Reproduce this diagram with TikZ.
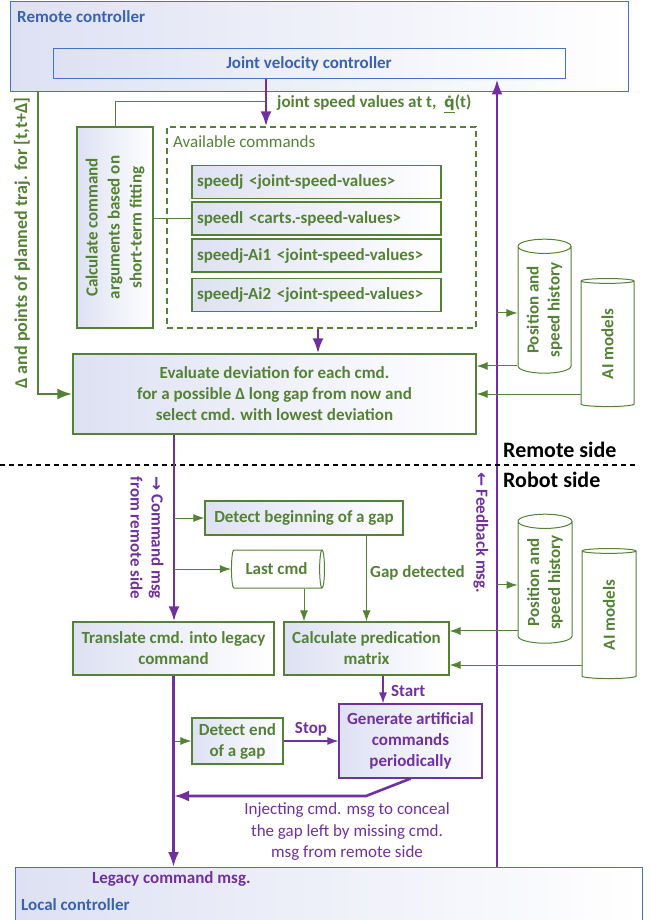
\documentclass[tikz,border=0pt]{standalone}
\usepackage{fontspec}
\setmainfont{Carlito}
\newfontfamily\arrowfont{DejaVu Sans}
\usetikzlibrary{arrows.meta,calc,positioning,shapes.geometric}
\tikzset{>={Latex[width=8pt,length=11pt]}}
\definecolor{ctrl_blue}{RGB}{68,114,196}
\definecolor{ctrl_text}{RGB}{58,98,178}
\definecolor{cmd_green}{RGB}{84,130,53}
\definecolor{msg_purple}{RGB}{112,48,160}
\definecolor{box_shade}{RGB}{222,225,243}

\begin{document}
\begin{tikzpicture}[
		x=1pt, y=-1pt,
		every node/.style={font=\fontsize{17}{21}\selectfont\bfseries, inner sep=0pt},
		shaded/.style={left color=box_shade, middle color=white, right color=white},
		ctrlbox/.style={draw=ctrl_blue, line width=1pt, shaded},
		gbox/.style={draw=cmd_green, line width=1.2pt, shaded, text=cmd_green, align=center},
		pbox/.style={draw=msg_purple, line width=1.2pt, shaded, text=msg_purple, align=center},
		store/.style={cylinder, draw=cmd_green, line width=1pt, fill=white, text=cmd_green, align=center, aspect=0.4},
		gline/.style={draw=cmd_green, line width=1pt},
		pthin/.style={draw=msg_purple, line width=1.2pt},
		pthick/.style={draw=msg_purple, line width=2.6pt, -{Latex[width=11pt,length=15pt]}},
	]
	\useasboundingbox (0,0) rectangle (649,920);

	% remote controller
	\node[ctrlbox, minimum width=618pt, minimum height=90pt] (remote) at (319,47) {};
	\node[anchor=west, text=ctrl_text] (remote-label) at (17,17) {Remote controller};
	\node[ctrlbox, minimum width=512pt, minimum height=30pt, text=ctrl_text] (joint-vel) at (309,64) {Joint velocity controller};

	% local controller
	\node[ctrlbox, minimum width=627pt, minimum height=80pt, anchor=north west] (local) at (15,867) {};
	\node[anchor=west, text=msg_purple] (legacy-label) at (92,879) {Legacy command msg.};
	\node[anchor=west, text=ctrl_text] (local-label) at (21,905) {Local controller};

	% command fitting
	\node[gbox, minimum width=76pt, minimum height=201pt] (fitting) at (115,227.5) {};
	\node[rotate=90, text=cmd_green, align=center, font=\fontsize{17}{22}\selectfont\bfseries] (fitting-text) at (fitting) {Calculate command\\arguments based on\\short-term fitting};

	\node[draw=cmd_green, line width=1.2pt, dash pattern=on 6pt off 4pt, minimum width=309pt, minimum height=201pt] (avail) at (321.5,227.5) {};
	\node[anchor=west, text=cmd_green, font=\fontsize{17}{21}\selectfont] (avail-label) at (173,142) {Available commands};

	\foreach \y/\n/\txt in {182/1/{speedj <joint-speed-values>}, 218.5/2/{speedl <carts.-speed-values>}, 255.5/3/{speedj-Ai1 <joint-speed-values>}, 295/4/{speedj-Ai2 <joint-speed-values>}}{
			\node[gbox, minimum height=33pt, text width=239pt, inner xsep=5pt, align=left] (cmd-\n) at (316.5,\y) {\txt};
		}

	\draw[gline] (cmd-2.west) -- (cmd-2.west -| fitting.east);

	\coordinate (speed-drop) at (266,102);
	\draw[gline] (fitting.north) |- (speed-drop);
	\draw[pthick] (joint-vel.south -| speed-drop) -- (avail.north -| speed-drop);
	\node[anchor=west, text=cmd_green] (speed-label) at (277,104) {joint speed values at t,\ \ \underline{{\arrowfont\bfseries\fontsize{15}{18}\selectfont \.{q}}}(t)};

	% evaluation
	\node[gbox, minimum width=403pt, minimum height=80pt] (evaluate) at (274.5,394) {Evaluate deviation for each cmd.\\for a possible Δ long gap from now and\\select cmd. with lowest deviation};

	\coordinate (cmd-drop) at (318,340);
	\draw[pthick] (avail.south -| cmd-drop) -- (evaluate.north -| cmd-drop);

	\coordinate (traj-top) at (38,92);
	\draw[draw=cmd_green, line width=2.6pt, -{Latex[width=11pt,length=15pt]}] (remote.south -| traj-top) |- (evaluate.west);
	\node[rotate=90, text=cmd_green, font=\fontsize{18}{21}\selectfont\bfseries] (traj-label) at (22,243) {Δ and points of planned traj. for [t,t+Δ]};

	\node[store, rotate=90, minimum height=134pt, minimum width=53pt] (history-remote) at (544.5,310) {Position and\\speed history};
	\node[store, rotate=90, minimum height=128pt, minimum width=53pt] (ai-remote) at (607.5,344) {AI models};

	% feedback
	\coordinate (feedback) at (497,600);
	\draw[pthick] (local.north -| feedback) -- (joint-vel.south -| feedback);
	\node[rotate=-90, text=msg_purple] (feedback-label) at (481,533) {{\arrowfont ←}\,Feedback msg.};

	\draw[gline, ->] (feedback |- history-remote.north) ++(0,3) coordinate (h0) -- (h0 -| history-remote.north);
	\draw[gline, ->] ($(history-remote.north)+(0,56)$) coordinate (h1) -- (h1 -| evaluate.east);
	\draw[gline, ->] (ai-remote.north |- evaluate.east) -- (evaluate.east);

	% sides
	\coordinate (side-left) at (0,465);
	\coordinate (side-right) at (637,465);
	\draw[line width=2.8pt, dash pattern=on 5pt off 4pt] (side-left) -- (side-right);
	\node[anchor=west, font=\fontsize{22}{26}\selectfont\bfseries] (remote-side) at (503,450) {Remote side};
	\node[anchor=west, font=\fontsize{22}{26}\selectfont\bfseries] (robot-side) at (503,480) {Robot side};

	% robot side
	\node[gbox, minimum width=201pt, minimum height=53pt] (translate) at (173.5,648.5) {Translate cmd. into legacy\\command};
	\coordinate (cmd-line) at (174,500);
	\draw[pthick] (evaluate.south -| cmd-line) -- (translate.north -| cmd-line);
	\node[rotate=-90, text=msg_purple, align=center] (cmd-msg) at (147,538) {{\arrowfont →}\,Command msg\\from remote side};

	\node[gbox, minimum width=198pt, minimum height=34pt] (gap-start) at (304,518) {Detect beginning of a gap};
	\draw[gline, ->] (cmd-line |- gap-start.west) -- (gap-start.west);

	\node[store, minimum height=93pt, minimum width=38pt] (last-cmd) at (276.5,569) {Last cmd};
	\draw[gline, ->] (cmd-line |- last-cmd.west) -- (last-cmd.west);

	\node[gbox, minimum width=165pt, minimum height=53pt] (predication) at (366.5,648.5) {Calculate predication\\matrix};
	\coordinate (last-drop) at (304,600);
	\draw[gline, ->] (last-cmd.south -| last-drop) -- (predication.north -| last-drop);
	\draw[gline, ->] (gap-start.south -| predication.north) -- (predication.north);
	\node[anchor=west, text=cmd_green] (gap-label) at (370,573) {Gap detected};

	\node[store, rotate=90, minimum height=129pt, minimum width=54pt] (history-robot) at (545,582.5) {Position and\\speed history};
	\node[store, rotate=90, minimum height=130pt, minimum width=54pt] (ai-robot) at (609,615) {AI models};

	\draw[gline, ->] (feedback |- history-robot.north) ++(0,2.5) coordinate (r0) -- (r0 -| history-robot.north);
	\draw[gline, ->] ($(history-robot.north)+(0,48.5)$) coordinate (r1) -- (r1 -| predication.east);
	\draw[gline, ->] ($(ai-robot.north)+(0,50)$) coordinate (r2) -- (r2 -| predication.east);

	% artificial commands
	\node[gbox, minimum width=91pt, minimum height=46pt] (gap-end) at (237.5,741) {Detect end\\of a gap};
	\node[pbox, minimum width=143pt, minimum height=74pt] (generate) at (410.5,741) {Generate artificial\\commands\\periodically};
	\draw[gline, ->] (cmd-line |- gap-end.west) -- (gap-end.west);
	\draw[pthin, ->] (gap-end.east) -- node[above=4pt, text=msg_purple] (stop-label) {Stop} (generate.west);

	\coordinate (start-drop) at (383,690);
	\draw[pthin, ->] (predication.south -| start-drop) -- (generate.north -| start-drop);
	\node[anchor=west, text=msg_purple] (start-label) at (391,691) {Start};

	\coordinate (inject-bend) at (366,796);
	\draw[pthick] (generate.south) -- (inject-bend) -- (inject-bend -| cmd-line);
	\node[text=msg_purple, align=center, font=\fontsize{17}{21.5}\selectfont] (inject-label) at (347,832) {Injecting cmd. msg to conceal\\the gap left by missing cmd.\\msg from remote side};

	\draw[pthick] (translate.south) -- (local.north -| translate.south);

\end{tikzpicture}
\end{document}
